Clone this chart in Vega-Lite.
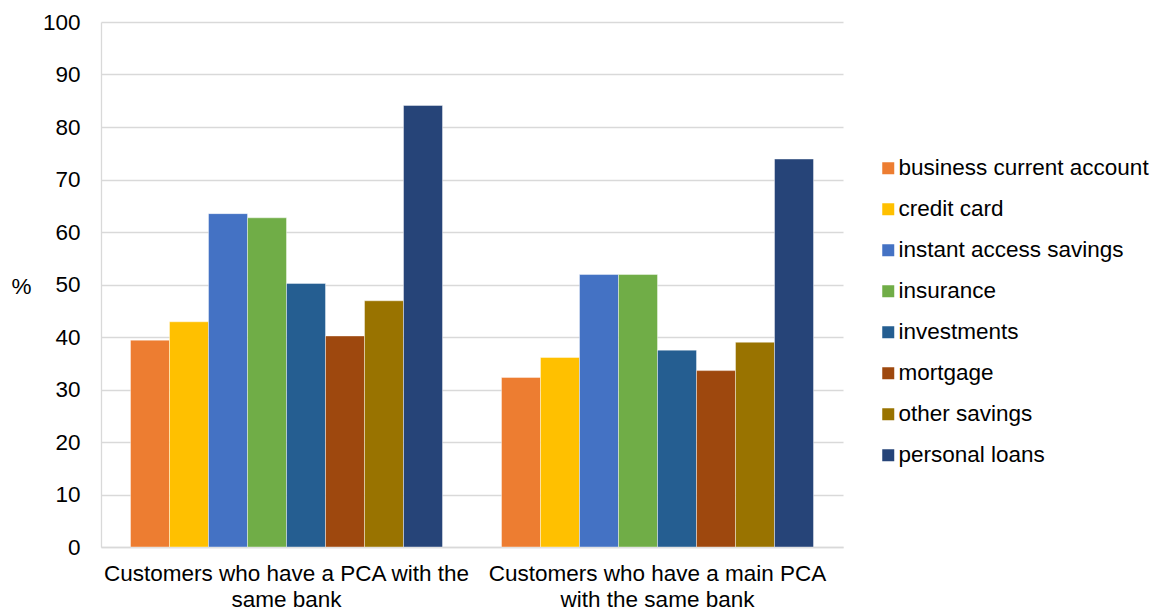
{
  "$schema": "https://vega.github.io/schema/vega-lite/v6.json",
  "autosize": {"type": "none"},
  "padding": {"left": 101, "top": 22, "right": 316, "bottom": 64},
  "width": 742,
  "height": 525,
  "background": "#ffffff",
  "config": {
    "font": "Liberation Sans",
    "view": {"stroke": null},
    "axis": {"labelFont": "Liberation Sans", "titleFont": "Liberation Sans"},
    "legend": {"labelFont": "Liberation Sans"}
  },
  "data": {
    "values": [
      {"group": "PCA", "product": "business current account", "pct": 39.4},
      {"group": "PCA", "product": "credit card", "pct": 42.9},
      {"group": "PCA", "product": "instant access savings", "pct": 63.5},
      {"group": "PCA", "product": "insurance", "pct": 62.7},
      {"group": "PCA", "product": "investments", "pct": 50.2},
      {"group": "PCA", "product": "mortgage", "pct": 40.2},
      {"group": "PCA", "product": "other savings", "pct": 46.9},
      {"group": "PCA", "product": "personal loans", "pct": 84.1},
      {"group": "main PCA", "product": "business current account", "pct": 32.3},
      {"group": "main PCA", "product": "credit card", "pct": 36.1},
      {"group": "main PCA", "product": "instant access savings", "pct": 51.9},
      {"group": "main PCA", "product": "insurance", "pct": 51.9},
      {"group": "main PCA", "product": "investments", "pct": 37.5},
      {"group": "main PCA", "product": "mortgage", "pct": 33.6},
      {"group": "main PCA", "product": "other savings", "pct": 39.0},
      {"group": "main PCA", "product": "personal loans", "pct": 73.9}
    ]
  },
  "mark": {"type": "bar", "stroke": "#ffffff", "strokeWidth": 0.6, "strokeOpacity": 0.7},
  "encoding": {
    "x": {
      "field": "group",
      "type": "nominal",
      "sort": ["PCA", "main PCA"],
      "scale": {"paddingInner": 0.159, "paddingOuter": 0.0795},
      "axis": {
        "title": null,
        "labelAngle": 0,
        "labelFontSize": 22.5,
        "labelColor": "#000000",
        "labelLimit": 500,
        "labelPadding": 15,
        "labelLineHeight": 26,
        "labelBaseline": "top",
        "labelExpr": "datum.value == 'PCA' ? ['Customers who have a PCA with the', 'same bank'] : ['Customers who have a main PCA', 'with the same bank']",
        "ticks": false,
        "domainColor": "#D9D9D9",
        "domainWidth": 1.3,
        "grid": false
      }
    },
    "xOffset": {
      "field": "product",
      "type": "nominal",
      "sort": ["business current account", "credit card", "instant access savings", "insurance", "investments", "mortgage", "other savings", "personal loans"],
      "scale": {"paddingInner": 0, "paddingOuter": 0}
    },
    "y": {
      "field": "pct",
      "type": "quantitative",
      "scale": {"domain": [0, 100], "nice": false},
      "axis": {
        "values": [0, 10, 20, 30, 40, 50, 60, 70, 80, 90, 100],
        "title": "%",
        "titleAngle": 0,
        "titleFontSize": 22.5,
        "titleFontWeight": "normal",
        "titleColor": "#000000",
        "titleX": -80,
        "titleY": 264,
        "titleAlign": "center",
        "titleBaseline": "middle",
        "labelFontSize": 22.5,
        "labelColor": "#000000",
        "labelPadding": 21,
        "ticks": false,
        "domainColor": "#D9D9D9",
        "domainWidth": 1.3,
        "gridColor": "#D9D9D9",
        "gridWidth": 1.3
      }
    },
    "color": {
      "field": "product",
      "type": "nominal",
      "sort": ["business current account", "credit card", "instant access savings", "insurance", "investments", "mortgage", "other savings", "personal loans"],
      "scale": {
        "domain": ["business current account", "credit card", "instant access savings", "insurance", "investments", "mortgage", "other savings", "personal loans"],
        "range": ["#ED7D31", "#FFC000", "#4472C4", "#70AD47", "#255E91", "#9E480E", "#997300", "#264478"]
      },
      "legend": {
        "title": null,
        "orient": "none",
        "legendX": 776,
        "legendY": 135,
        "symbolType": "square",
        "symbolSize": 144,
        "symbolStrokeWidth": 0,
        "labelFontSize": 22.5,
        "labelColor": "#000000",
        "labelOffset": -1,
        "rowPadding": 18,
        "labelLimit": 400
      }
    }
  }
}
